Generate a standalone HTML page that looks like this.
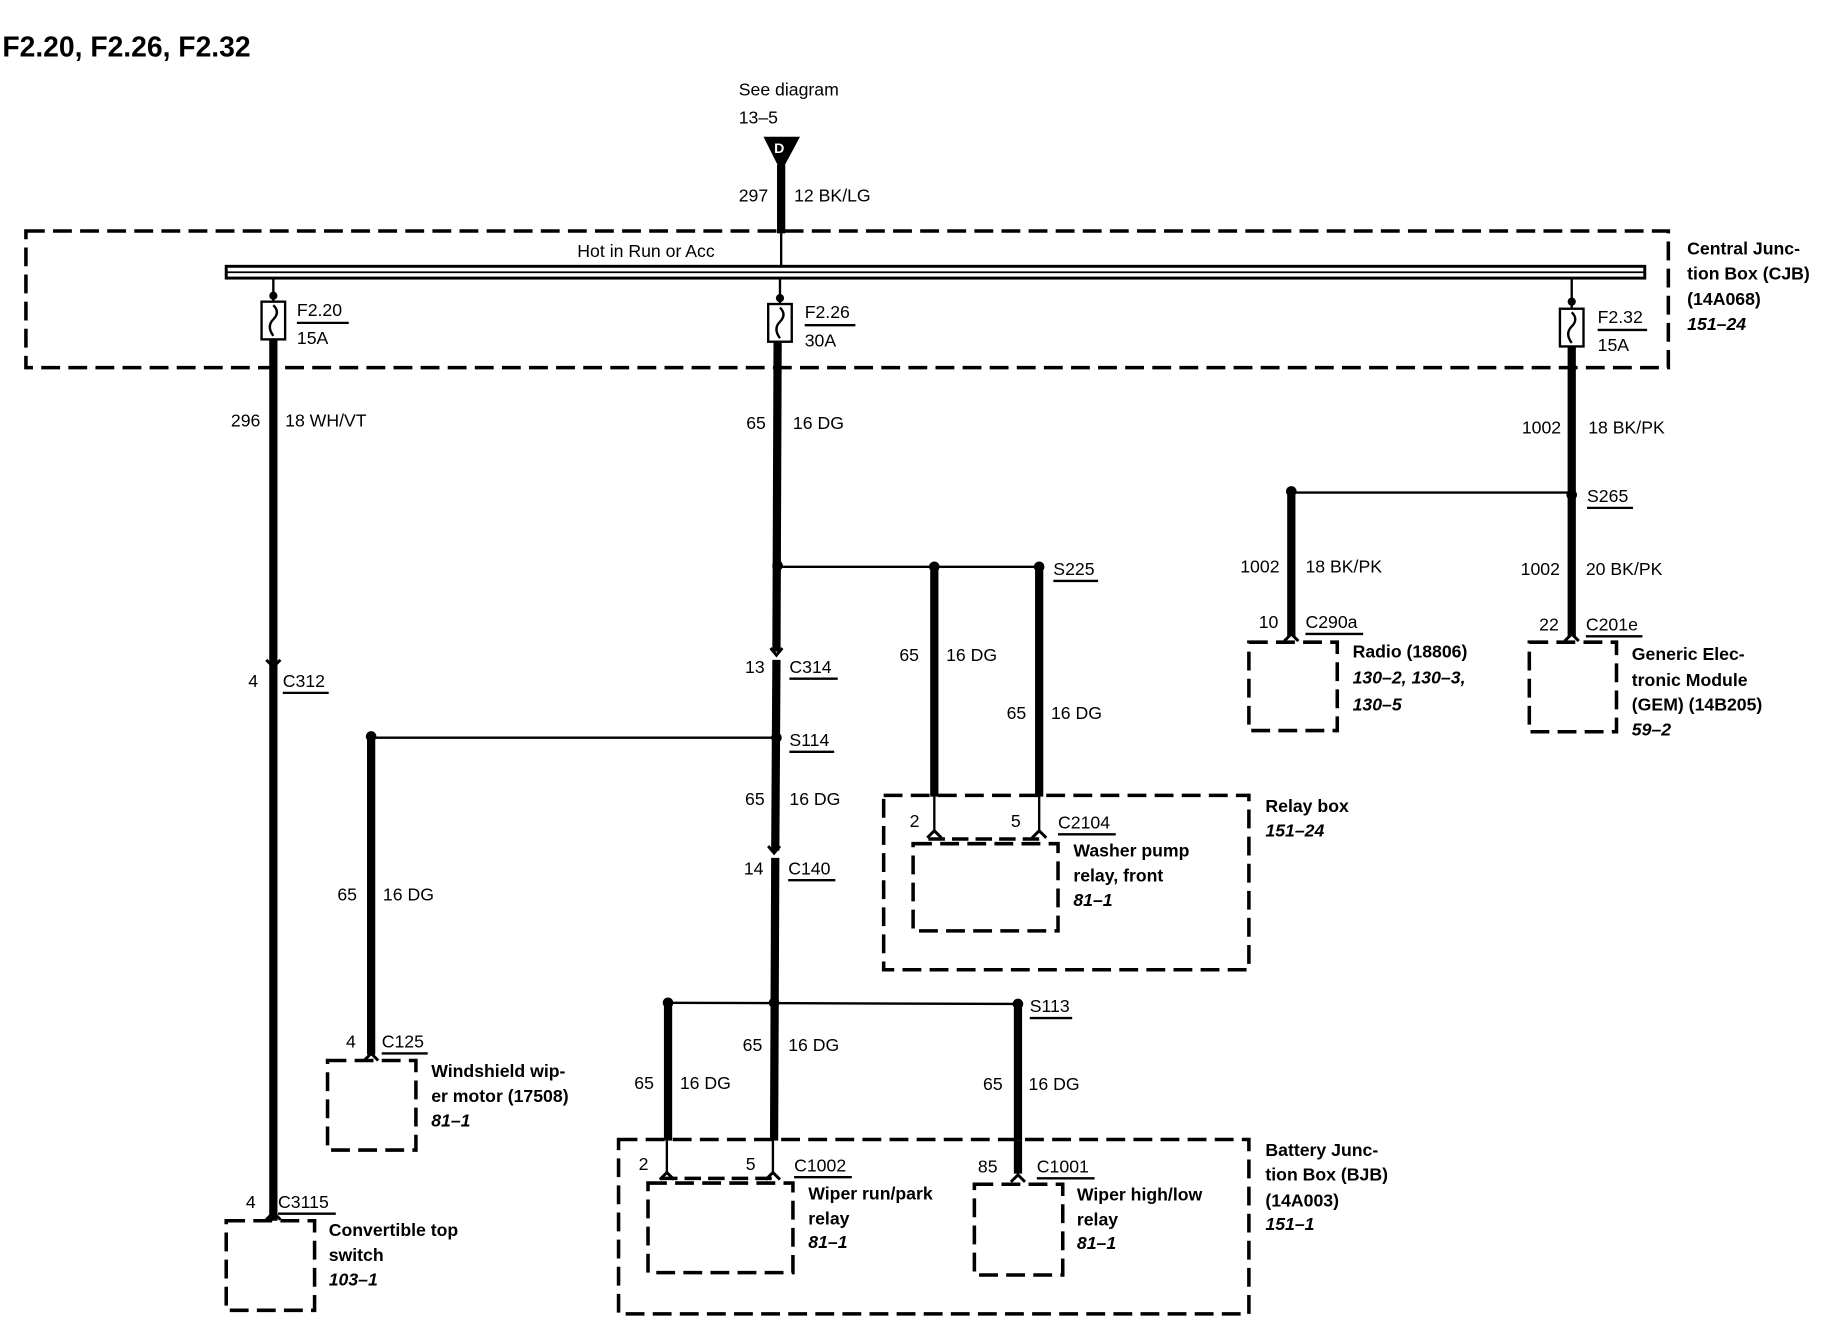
<!DOCTYPE html>
<html><head><style>
html,body{margin:0;padding:0;background:#fff;width:1838px;height:1328px;overflow:hidden}
svg{display:block}
text{font-family:"Liberation Sans",sans-serif;font-size:15px;fill:#000}
.b{font-weight:bold}
.i{font-weight:bold;font-style:italic}
.d{fill:none;stroke:#000;stroke-width:3;stroke-dasharray:16,7}
.w{stroke:#000;stroke-width:7}
.t{stroke:#000;stroke-width:2}
</style></head><body>
<svg width="1838" height="1328" viewBox="0 0 1560 1127" preserveAspectRatio="none">
<defs>
<marker id="x"/>
</defs>
<text x="2" y="48" class="b" style="font-size:24px">F2.20, F2.26, F2.32</text>
<text x="627" y="81">See diagram</text>
<text x="627" y="105">13–5</text>
<polygon points="648,116 679,116 663,146" fill="#000"/>
<text x="657" y="130" style="fill:#fff;font-size:12px" class="b">D</text>
<line class="w" x1="663" y1="140" x2="663" y2="198"/>
<line class="t" x1="663" y1="198" x2="663" y2="227"/>
<text x="652" y="171" text-anchor="end">297</text>
<text x="674" y="171">12 BK/LG</text>

<!-- CJB -->
<rect class="d" x="22" y="196" width="1394" height="116"/>
<rect x="192" y="226" width="1204" height="10" fill="#fff" stroke="#000" stroke-width="2.5"/>
<line x1="192" y1="231" x2="1396" y2="231" stroke="#000" stroke-width="1.5"/>
<text x="490" y="218">Hot in Run or Acc</text>
<text x="1432" y="216" class="b">Central Junc-</text>
<text x="1432" y="237" class="b">tion Box (CJB)</text>
<text x="1432" y="259" class="b">(14A068)</text>
<text x="1432" y="280" class="i">151–24</text>

<!-- fuses -->
<g>
<line class="t" x1="232" y1="236" x2="232" y2="256"/><circle cx="232" cy="251" r="3.5"/>
<rect x="222" y="256" width="20" height="32" fill="#fff" stroke="#000" stroke-width="2"/>
<path d="M232,259 q6,6 0,12 q-6,6 0,14" fill="none" stroke="#000" stroke-width="2"/>
<text x="252" y="268">F2.20</text><line class="t" x1="252" y1="274" x2="296" y2="274" stroke-width="1.5"/>
<text x="252" y="292">15A</text>
<line class="w" x1="232" y1="288" x2="232" y2="1036"/>
</g>
<g>
<line class="t" x1="662" y1="236" x2="662" y2="258"/><circle cx="662" cy="253" r="3.5"/>
<rect x="652" y="258" width="20" height="32" fill="#fff" stroke="#000" stroke-width="2"/>
<path d="M662,261 q6,6 0,12 q-6,6 0,14" fill="none" stroke="#000" stroke-width="2"/>
<text x="683" y="270">F2.26</text><line class="t" x1="683" y1="276" x2="726" y2="276" stroke-width="1.5"/>
<text x="683" y="294">30A</text>
<line class="w" x1="660" y1="290" x2="659" y2="553"/>
<line class="w" x1="659" y1="560" x2="658" y2="722"/>
<line class="w" x1="658" y1="728" x2="657" y2="968"/>
</g>
<g>
<line class="t" x1="1334" y1="236" x2="1334" y2="262"/><circle cx="1334" cy="256" r="3.5"/>
<rect x="1324" y="262" width="20" height="32" fill="#fff" stroke="#000" stroke-width="2"/>
<path d="M1334,265 q6,6 0,12 q-6,6 0,14" fill="none" stroke="#000" stroke-width="2"/>
<text x="1356" y="274">F2.32</text><line class="t" x1="1356" y1="280" x2="1398" y2="280" stroke-width="1.5"/>
<text x="1356" y="298">15A</text>
<line class="w" x1="1334" y1="294" x2="1334" y2="540"/>
</g>

<text x="221" y="362" text-anchor="end">296</text><text x="242" y="362">18 WH/VT</text>
<text x="650" y="364" text-anchor="end">65</text><text x="673" y="364">16 DG</text>
<text x="1325" y="368" text-anchor="end">1002</text><text x="1348" y="368">18 BK/PK</text>

<!-- S265 -->
<line class="t" x1="1096" y1="418" x2="1334" y2="418"/>
<circle cx="1096" cy="417" r="4.5"/><circle cx="1334" cy="420" r="4.5"/>
<text x="1347" y="426">S265</text><line class="t" x1="1347" y1="431" x2="1386" y2="431" stroke-width="1.5"/>
<line class="w" x1="1096" y1="420" x2="1096" y2="540"/>
<text x="1086" y="486" text-anchor="end">1002</text><text x="1108" y="486">18 BK/PK</text>
<text x="1324" y="488" text-anchor="end">1002</text><text x="1346" y="488">20 BK/PK</text>
<path d="M1090,544 l6,-6 l6,6" fill="none" stroke="#000" stroke-width="2.5"/>
<path d="M1328,544 l6,-6 l6,6" fill="none" stroke="#000" stroke-width="2.5"/>
<text x="1085" y="533" text-anchor="end">10</text>
<text x="1108" y="533">C290a</text><line class="t" x1="1108" y1="538" x2="1157" y2="538" stroke-width="1.5"/>
<rect class="d" x="1060" y="545" width="75" height="75"/>
<text x="1148" y="558" class="b">Radio (18806)</text>
<text x="1148" y="580" class="i">130–2, 130–3,</text>
<text x="1148" y="603" class="i">130–5</text>
<text x="1323" y="535" text-anchor="end">22</text>
<text x="1346" y="535">C201e</text><line class="t" x1="1346" y1="540" x2="1394" y2="540" stroke-width="1.5"/>
<rect class="d" x="1298" y="545" width="74" height="76"/>
<text x="1385" y="560" class="b">Generic Elec-</text>
<text x="1385" y="582" class="b">tronic Module</text>
<text x="1385" y="603" class="b">(GEM) (14B205)</text>
<text x="1385" y="624" class="i">59–2</text>

<!-- S225 -->
<line class="t" x1="661" y1="481" x2="882" y2="481"/>
<circle cx="660" cy="480" r="4.5"/><circle cx="793" cy="481" r="4.5"/><circle cx="882" cy="481" r="4.5"/>
<text x="894" y="488">S225</text><line class="t" x1="894" y1="493" x2="932" y2="493" stroke-width="1.5"/>
<line class="w" x1="793" y1="484" x2="793" y2="676"/>
<line class="w" x1="882" y1="484" x2="882" y2="676"/>
<text x="780" y="561" text-anchor="end">65</text><text x="803" y="561">16 DG</text>
<text x="871" y="610" text-anchor="end">65</text><text x="892" y="610">16 DG</text>

<!-- C314 -->
<path d="M654,550 l5,6 l5,-6" fill="none" stroke="#000" stroke-width="2.5"/>
<text x="649" y="571" text-anchor="end">13</text>
<text x="670" y="571">C314</text><line class="t" x1="670" y1="576" x2="711" y2="576" stroke-width="1.5"/>
<!-- S114 -->
<line class="t" x1="315" y1="626" x2="659" y2="626"/>
<circle cx="315" cy="625" r="4.5"/><circle cx="659" cy="626" r="4.5"/>
<text x="670" y="633">S114</text><line class="t" x1="670" y1="638" x2="708" y2="638" stroke-width="1.5"/>
<line class="w" x1="315" y1="628" x2="315" y2="895"/>
<text x="303" y="764" text-anchor="end">65</text><text x="325" y="764">16 DG</text>
<text x="649" y="683" text-anchor="end">65</text><text x="670" y="683">16 DG</text>
<path d="M652,718 l5,6 l5,-6" fill="none" stroke="#000" stroke-width="2.5"/>
<text x="648" y="742" text-anchor="end">14</text>
<text x="669" y="742">C140</text><line class="t" x1="669" y1="747" x2="709" y2="747" stroke-width="1.5"/>

<!-- C312 -->
<path d="M226,560 l6,6 l6,-6" fill="none" stroke="#000" stroke-width="2.5"/>
<text x="219" y="583" text-anchor="end">4</text>
<text x="240" y="583">C312</text><line class="t" x1="240" y1="588" x2="279" y2="588" stroke-width="1.5"/>

<!-- relay box -->
<rect class="d" x="750" y="675" width="310" height="148"/>
<text x="1074" y="689" class="b">Relay box</text>
<text x="1074" y="710" class="i">151–24</text>
<line class="t" x1="793" y1="676" x2="793" y2="707"/>
<line class="t" x1="882" y1="676" x2="882" y2="707"/>
<path d="M787,711 l6,-6 l6,6 M876,711 l6,-6 l6,6" fill="none" stroke="#000" stroke-width="2.5"/>
<line x1="788" y1="712" x2="887" y2="712" stroke="#000" stroke-width="3" stroke-dasharray="14,6"/>
<text x="772" y="702">2</text><text x="858" y="702">5</text>
<text x="898" y="703">C2104</text><line class="t" x1="898" y1="708" x2="947" y2="708" stroke-width="1.5"/>
<rect class="d" x="775" y="716" width="123" height="74"/>
<text x="911" y="727" class="b">Washer pump</text>
<text x="911" y="748" class="b">relay, front</text>
<text x="911" y="769" class="i">81–1</text>

<!-- S113 -->
<line class="t" x1="567" y1="851" x2="864" y2="852"/>
<circle cx="567" cy="851" r="4.5"/><circle cx="657" cy="851" r="4.5"/><circle cx="864" cy="852" r="4.5"/>
<text x="874" y="859">S113</text><line class="t" x1="874" y1="864" x2="910" y2="864" stroke-width="1.5"/>
<line class="w" x1="567" y1="854" x2="567" y2="968"/>
<line class="w" x1="864" y1="855" x2="864" y2="968"/>
<text x="555" y="924" text-anchor="end">65</text><text x="577" y="924">16 DG</text>
<text x="647" y="892" text-anchor="end">65</text><text x="669" y="892">16 DG</text>
<text x="851" y="925" text-anchor="end">65</text><text x="873" y="925">16 DG</text>

<!-- BJB -->
<rect class="d" x="525" y="967" width="535" height="148"/>
<text x="1074" y="981" class="b">Battery Junc-</text>
<text x="1074" y="1002" class="b">tion Box (BJB)</text>
<text x="1074" y="1024" class="b">(14A003)</text>
<text x="1074" y="1044" class="i">151–1</text>
<line class="t" x1="566" y1="968" x2="566" y2="997"/>
<line class="t" x1="656" y1="968" x2="656" y2="997"/>
<line class="w" x1="864" y1="968" x2="864" y2="996" stroke-width="4"/>
<path d="M560,1001 l6,-6 l6,6 M650,1001 l6,-6 l6,6 M858,1003 l6,-6 l6,6" fill="none" stroke="#000" stroke-width="2.5"/>
<line x1="561" y1="1000" x2="661" y2="1000" stroke="#000" stroke-width="3" stroke-dasharray="14,6"/>
<text x="542" y="993">2</text><text x="633" y="993">5</text>
<text x="674" y="994">C1002</text><line class="t" x1="674" y1="999" x2="723" y2="999" stroke-width="1.5"/>
<rect class="d" x="550" y="1004" width="123" height="76"/>
<text x="686" y="1018" class="b">Wiper run/park</text>
<text x="686" y="1039" class="b">relay</text>
<text x="686" y="1059" class="i">81–1</text>
<text x="830" y="995">85</text>
<text x="880" y="995">C1001</text><line class="t" x1="880" y1="1000" x2="929" y2="1000" stroke-width="1.5"/>
<rect class="d" x="827" y="1005" width="75" height="77"/>
<text x="914" y="1019" class="b">Wiper high/low</text>
<text x="914" y="1040" class="b">relay</text>
<text x="914" y="1060" class="i">81–1</text>

<!-- C125 -->
<path d="M309,900 l6,-6 l6,6" fill="none" stroke="#000" stroke-width="2.5"/>
<text x="302" y="889" text-anchor="end">4</text>
<text x="324" y="889">C125</text><line class="t" x1="324" y1="894" x2="363" y2="894" stroke-width="1.5"/>
<rect class="d" x="278" y="900" width="75" height="76"/>
<text x="366" y="914" class="b">Windshield wip-</text>
<text x="366" y="935" class="b">er motor (17508)</text>
<text x="366" y="956" class="i">81–1</text>

<!-- C3115 -->
<path d="M226,1035 l6,-6 l6,6" fill="none" stroke="#000" stroke-width="2.5"/>
<text x="217" y="1025" text-anchor="end">4</text>
<text x="236" y="1025">C3115</text><line class="t" x1="236" y1="1030" x2="285" y2="1030" stroke-width="1.5"/>
<rect class="d" x="192" y="1036" width="75" height="76"/>
<text x="279" y="1049" class="b">Convertible top</text>
<text x="279" y="1070" class="b">switch</text>
<text x="279" y="1091" class="i">103–1</text>
</svg>
</body></html>
